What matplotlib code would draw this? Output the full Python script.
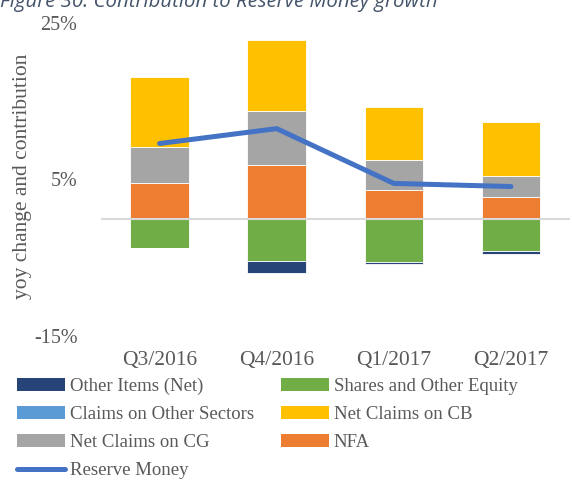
import matplotlib
matplotlib.use("Agg")
import matplotlib.pyplot as plt
import numpy as np
from matplotlib.patches import Patch
from matplotlib.lines import Line2D

categories = ["Q3/2016", "Q4/2016", "Q1/2017", "Q2/2017"]
other_items = [0.0, -1.5, -0.2, -0.3]
shares_equity = [-3.8, -5.4, -5.6, -4.2]
claims_other = [0.0, 0.0, 0.0, 0.0]
net_claims_cb = [8.9, 9.1, 6.8, 6.9]
net_claims_cg = [4.7, 6.9, 3.8, 2.8]
nfa = [4.5, 6.8, 3.7, 2.7]
reserve_money = [9.6, 11.5, 4.5, 4.1]
y_ticks = [-15, 5, 25]
y_tick_labels = ["-15%", "5%", "25%"]

c_other = "#264478"
c_shares = "#70AD47"
c_claims = "#5B9BD5"
c_cb = "#FFC000"
c_cg = "#A5A5A5"
c_nfa = "#ED7D31"
c_rm = "#4472C4"
txt = "#595959"
serif = ["Liberation Serif", "DejaVu Serif"]

fig = plt.figure(figsize=(5.72, 4.8), dpi=100)
ax = fig.add_axes([101/572, 1-336/480, (569.5-101)/572, (336-23)/480])

x = np.arange(len(categories))
w = 0.5
ek = dict(edgecolor="white", linewidth=0.6)
# positive stack
b0 = np.zeros(len(x))
ax.bar(x, nfa, w, bottom=b0, color=c_nfa, **ek)
b0 = b0 + np.array(nfa)
ax.bar(x, net_claims_cg, w, bottom=b0, color=c_cg, **ek)
b0 = b0 + np.array(net_claims_cg)
ax.bar(x, claims_other, w, bottom=b0, color=c_claims, **ek)
b0 = b0 + np.array(claims_other)
ax.bar(x, net_claims_cb, w, bottom=b0, color=c_cb, **ek)
# negative stack
n0 = np.zeros(len(x))
ax.bar(x, shares_equity, w, bottom=n0, color=c_shares, **ek)
n0 = n0 + np.array(shares_equity)
ax.bar(x, other_items, w, bottom=n0, color=c_other, **ek)

ax.axhline(0, color="#D9D9D9", linewidth=1.5, zorder=3)
ax.plot(x, reserve_money, color=c_rm, linewidth=3.6, solid_capstyle="round",
        solid_joinstyle="round", zorder=4)

ax.set_xlim(-0.5, len(categories) - 0.5)
ax.set_ylim(-15, 25)
ax.set_yticks(y_ticks)
ax.set_yticklabels(y_tick_labels)
ax.set_xticks(x)
ax.set_xticklabels(categories)
for s in ax.spines.values():
    s.set_visible(False)
ax.tick_params(axis="both", length=0, labelcolor=txt)
ax.tick_params(axis="y", pad=17, labelsize=14.5)
ax.tick_params(axis="x", pad=11, labelsize=15.5)
for lab in ax.get_xticklabels() + ax.get_yticklabels():
    lab.set_family(serif)

fig.text(23/572, 1-176/480, "yoy change and contribution", rotation=90,
         ha="center", va="center", fontsize=15.5, color=txt, family=serif)

fig.text(0.0, 1-7/480, "Figure 30: Contribution to Reserve Money growth",
         ha="left", va="baseline", fontsize=14.7, style="italic",
         color="#44546A", family=["Open Sans", "DejaVu Sans"])

handles = [
    Patch(facecolor=c_other, label="Other Items (Net)"),
    Patch(facecolor=c_claims, label="Claims on Other Sectors"),
    Patch(facecolor=c_cg, label="Net Claims on CG"),
    Line2D([0], [0], color=c_rm, linewidth=3.6, solid_capstyle="round", label="Reserve Money"),
    Patch(facecolor=c_shares, label="Shares and Other Equity"),
    Patch(facecolor=c_cb, label="Net Claims on CB"),
    Patch(facecolor=c_nfa, label="NFA"),
]
leg = fig.legend(handles=handles, ncol=2, loc="upper left",
                 bbox_to_anchor=(17/572, 1-378/480), frameon=False,
                 prop={"family": serif, "size": 13.5},
                 handlelength=2.56, handleheight=0.64, handletextpad=0.28,
                 columnspacing=1.4, labelspacing=0.58, borderpad=0.0,
                 borderaxespad=0.0)
for t in leg.get_texts():
    t.set_color(txt)

fig.savefig("out.png", dpi=100)
